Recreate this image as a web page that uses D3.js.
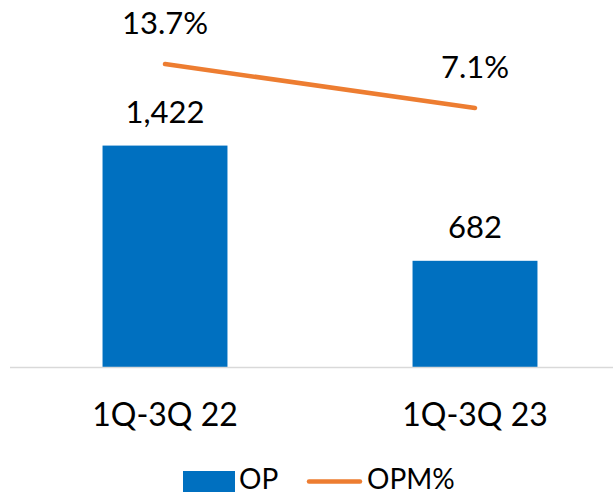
<!DOCTYPE html>
<html>
<head>
<meta charset="utf-8">
<script src="https://cdn.jsdelivr.net/npm/d3@7"></script>
<style>
  body { margin: 0; background: #fff; }
  text { font-family: Lato, "Open Sans", sans-serif; fill: #000; }
</style>
</head>
<body>
<div id="chart"></div>
<script>
// data
var categories = ["1Q-3Q 22", "1Q-3Q 23"];
var opValues = [1422, 682];
var opmValues = [0.137, 0.071];
var seriesNames = ["OP", "OPM%"];

var svgWidth = 613;
var svgHeight = 495;
var baseY = 367;
var topY = 7;

var svg = d3.select("#chart")
  .append("svg")
  .attr("width", svgWidth)
  .attr("height", svgHeight);

// x band, plot area runs past the right edge (cropped)
var x = d3.scaleBand()
  .domain(categories)
  .range([10, 630])
  .paddingInner(0.597)
  .paddingOuter(0.2985);

var y = d3.scaleLinear()
  .domain([0, 2312])
  .range([baseY, topY]);

// secondary axis for the margin line
var y2 = d3.scaleLinear()
  .domain([-0.3175, 0.2225])
  .range([baseY, topY]);

// bars
svg.selectAll("rect.bar")
  .data(opValues)
  .enter()
  .append("rect")
  .attr("class", "bar")
  .attr("x", (d, i) => x(categories[i]))
  .attr("y", d => y(d))
  .attr("width", x.bandwidth())
  .attr("height", d => y(0) - y(d))
  .attr("fill", "#0070C0");

// category axis line
svg.append("line")
  .attr("x1", 10)
  .attr("x2", svgWidth)
  .attr("y1", baseY + 0.5)
  .attr("y2", baseY + 0.5)
  .attr("stroke", "#d9d9d9")
  .attr("stroke-width", 1.5);

// bar labels
svg.selectAll("text.barlabel")
  .data(opValues)
  .enter()
  .append("text")
  .attr("class", "barlabel")
  .attr("x", (d, i) => x(categories[i]) + x.bandwidth() / 2)
  .attr("y", d => y(d) - 23)
  .attr("text-anchor", "middle")
  .attr("font-size", "31px")
  .text(d => d3.format(",")(d));

// margin line
var line = d3.line()
  .x((d, i) => x(categories[i]) + x.bandwidth() / 2)
  .y(d => y2(d));

svg.append("path")
  .datum(opmValues)
  .attr("d", line)
  .attr("fill", "none")
  .attr("stroke", "#ED7D31")
  .attr("stroke-width", 4.5)
  .attr("stroke-linecap", "round");

svg.selectAll("text.linelabel")
  .data(opmValues)
  .enter()
  .append("text")
  .attr("class", "linelabel")
  .attr("x", (d, i) => x(categories[i]) + x.bandwidth() / 2)
  .attr("y", d => y2(d) - 30)
  .attr("text-anchor", "middle")
  .attr("font-size", "31px")
  .text(d => d3.format(".1%")(d));

// category labels
svg.selectAll("text.cat")
  .data(categories)
  .enter()
  .append("text")
  .attr("class", "cat")
  .attr("x", d => x(d) + x.bandwidth() / 2)
  .attr("y", 426)
  .attr("text-anchor", "middle")
  .attr("font-size", "32px")
  .text(d => d);

// legend
var legend = svg.append("g");

legend.append("rect")
  .attr("x", 183)
  .attr("y", 471)
  .attr("width", 52)
  .attr("height", 21)
  .attr("fill", "#0070C0");

legend.append("text")
  .attr("x", 239)
  .attr("y", 489)
  .attr("font-size", "28px")
  .text(seriesNames[0]);

legend.append("line")
  .attr("x1", 309)
  .attr("x2", 360)
  .attr("y1", 481.5)
  .attr("y2", 481.5)
  .attr("stroke", "#ED7D31")
  .attr("stroke-width", 4.5)
  .attr("stroke-linecap", "round");

legend.append("text")
  .attr("x", 367)
  .attr("y", 489)
  .attr("font-size", "28px")
  .text(seriesNames[1]);
</script>
</body>
</html>
